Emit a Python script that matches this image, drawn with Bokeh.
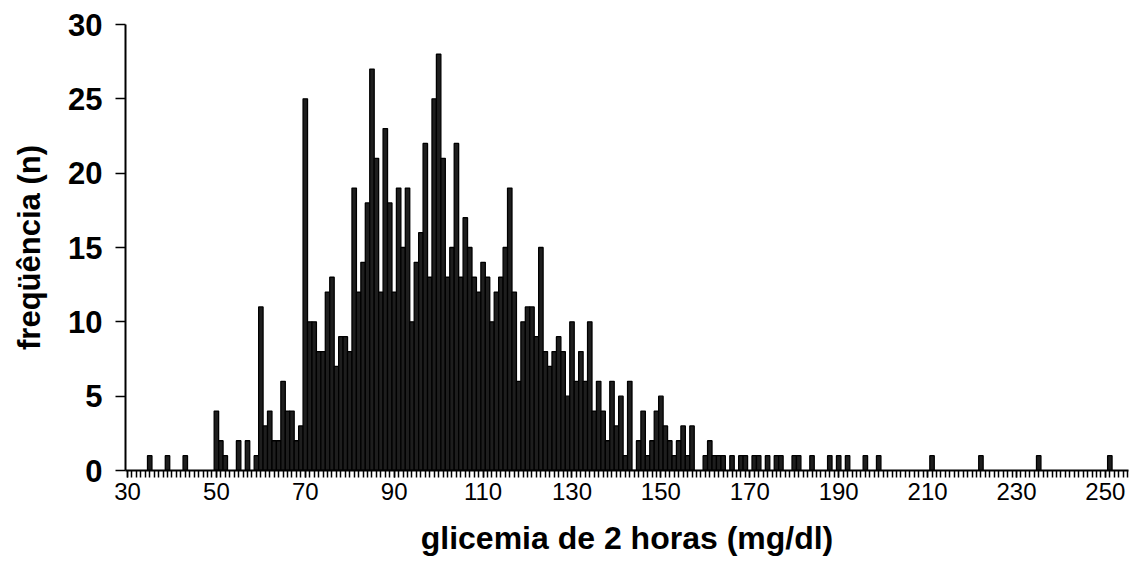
from bokeh.plotting import figure
from bokeh.models import Range1d, FixedTicker
from bokeh.embed import file_html
from bokeh.resources import INLINE

# glicemia de 2 horas (mg/dl) -> freqüência (n); bins of 1 mg/dl
glicemia_baixa = [35, 39, 43, 50, 51, 52, 55, 57]
freq_baixa = [1, 1, 1, 4, 2, 1, 2, 2]

glicemia_central = list(range(59, 158))
freq_central = [
    1, 11, 3, 4, 2, 2, 6, 4, 4, 2, 3,          # 59-69
    25, 10, 10, 8, 8, 12, 13, 7, 9, 9,         # 70-79
    8, 19, 12, 14, 18, 27, 21, 12, 23, 18,     # 80-89
    12, 19, 15, 19, 10, 14, 16, 22, 13, 25,    # 90-99
    28, 21, 13, 15, 22, 13, 17, 15, 13, 12,    # 100-109
    14, 13, 10, 12, 13, 15, 19, 12, 6, 10,     # 110-119
    11, 11, 9, 15, 8, 7, 8, 9, 8, 5,           # 120-129
    10, 6, 8, 6, 10, 4, 6, 4, 2, 6,            # 130-139
    3, 5, 1, 6, 0, 2, 4, 1, 2, 4,              # 140-149
    5, 3, 2, 1, 2, 3, 1, 3,                    # 150-157
]

glicemia_alta = [160, 161, 162, 163, 164, 166, 168, 169, 171, 172, 174, 176, 177,
                 180, 181, 184, 188, 190, 192, 196, 199, 211, 222, 235, 251]
freq_alta = [1, 2, 1, 1, 1, 1, 1, 1, 1, 1, 1, 1, 1,
             1, 1, 1, 1, 1, 1, 1, 1, 1, 1, 1, 1]

x_ticks = [30, 50, 70, 90, 110, 130, 150, 170, 190, 210, 230, 250]
y_ticks = [0, 5, 10, 15, 20, 25, 30]

glicemia = glicemia_baixa + glicemia_central + glicemia_alta
frequencia = freq_baixa + freq_central + freq_alta

FONT = "Liberation Sans"

p = figure(width=1135, height=583, output_backend="svg", toolbar_location=None,
           x_range=Range1d(29.55, 255.2), y_range=Range1d(0, 30),
           min_border_left=125, min_border_right=7, min_border_top=24,
           min_border_bottom=113, background_fill_color="white",
           border_fill_color="white")

p.vbar(x=glicemia, top=frequencia, bottom=0, width=1,
       fill_color="#1e1e1e", line_color="black", line_width=1.3)

p.grid.visible = False
p.outline_line_color = None

xa = p.xaxis[0]
xa.ticker = FixedTicker(ticks=x_ticks, minor_ticks=list(range(30, 256)))
xa.axis_line_width = 2
xa.axis_line_color = "black"
xa.major_tick_in = 0
xa.major_tick_out = 7
xa.minor_tick_in = 0
xa.minor_tick_out = 7
xa.major_tick_line_width = 1.5
xa.minor_tick_line_width = 1.5
xa.major_label_text_font = FONT
xa.major_label_text_font_size = "24px"
xa.major_label_text_color = "black"
xa.major_label_standoff = 5
xa.axis_label = "glicemia de 2 horas (mg/dl)"
xa.axis_label_text_font = FONT
xa.axis_label_text_font_style = "bold"
xa.axis_label_text_font_size = "32px"
xa.axis_label_text_color = "black"
xa.axis_label_standoff = 17

ya = p.yaxis[0]
ya.ticker = FixedTicker(ticks=y_ticks, minor_ticks=[])
ya.axis_line_width = 2
ya.axis_line_color = "black"
ya.major_tick_in = 0
ya.major_tick_out = 10
ya.minor_tick_out = 0
ya.minor_tick_in = 0
ya.major_tick_line_width = 1.5
ya.major_label_text_font = FONT
ya.major_label_text_font_style = "bold"
ya.major_label_text_font_size = "31px"
ya.major_label_text_color = "black"
ya.major_label_standoff = 13
ya.axis_label = "freqüência (n)"
ya.axis_label_text_font = FONT
ya.axis_label_text_font_style = "bold"
ya.axis_label_text_font_size = "31px"
ya.axis_label_text_color = "black"
ya.axis_label_standoff = 18

open("out.html", "w").write(file_html(p, INLINE))
